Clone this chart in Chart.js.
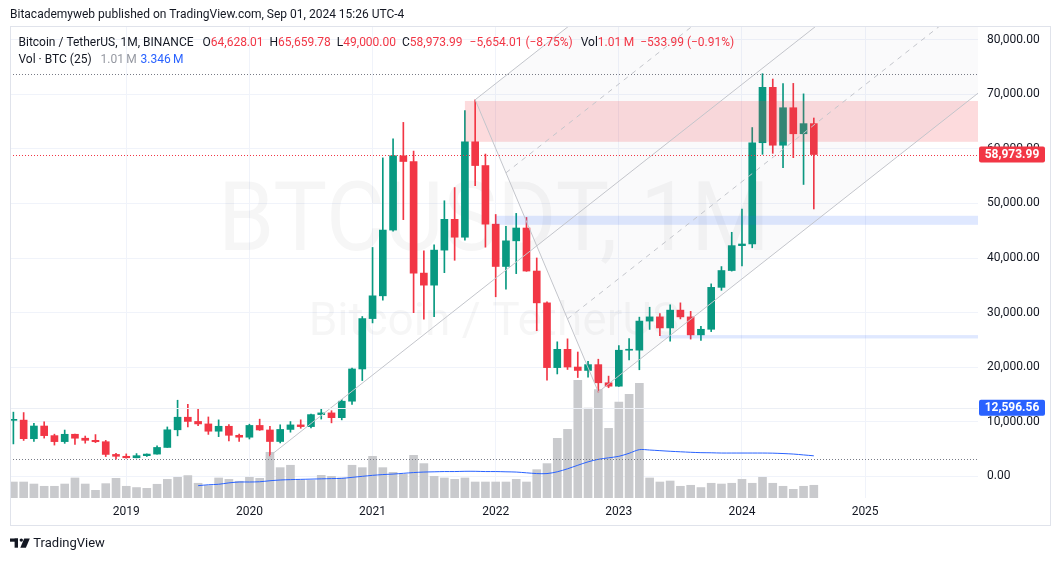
<!DOCTYPE html>
<html>
<head>
<meta charset="utf-8">
<script src="https://cdn.jsdelivr.net/npm/chart.js@4.4.1/dist/chart.umd.min.js"></script>
<style>
html,body{margin:0;padding:0;background:#ffffff;}
canvas{display:block;}
</style>
</head>
<body>
<canvas id="c" width="1060" height="561"></canvas>
<script>
// ---------- DATA (BTC/USDT monthly, Binance) ----------
const months = [
 '2018-02','2018-03','2018-04','2018-05','2018-06','2018-07','2018-08','2018-09','2018-10','2018-11','2018-12',
 '2019-01','2019-02','2019-03','2019-04','2019-05','2019-06','2019-07','2019-08','2019-09','2019-10','2019-11','2019-12',
 '2020-01','2020-02','2020-03','2020-04','2020-05','2020-06','2020-07','2020-08','2020-09','2020-10','2020-11','2020-12',
 '2021-01','2021-02','2021-03','2021-04','2021-05','2021-06','2021-07','2021-08','2021-09','2021-10','2021-11','2021-12',
 '2022-01','2022-02','2022-03','2022-04','2022-05','2022-06','2022-07','2022-08','2022-09','2022-10','2022-11','2022-12',
 '2023-01','2023-02','2023-03','2023-04','2023-05','2023-06','2023-07','2023-08','2023-09','2023-10','2023-11','2023-12',
 '2024-01','2024-02','2024-03','2024-04','2024-05','2024-06','2024-07','2024-08'
];
const opens = [
 10285,10326,6922,9246,7485,6391,7735,7011,6627,6369,4041,
 3701,3434,3814,4102,5321,8555,10855,10085,9630,8294,9199,7547,
 7195,9352,8523,6412,8620,9448,9138,11335,11649,10776,13791,19695,
 28923,33092,45134,58739,57697,37253,35045,41461,47100,43820,61300,56951,
 46216,38466,43160,45511,37631,31801,19942,23296,20049,19423,20491,17165,
 16542,23125,23141,28465,29233,27210,30472,29232,25941,26963,34640,37724,
 42284,42582,61131,71280,60672,67540,62773,64628.01
];
const highs = [
 11786,11710,9759,10020,7754,8507,7750,7410,7680,6615,4236,
 4140,4198,4140,5627,9074,13970,13200,12325,10905,10370,9510,7750,
 9578,10500,9189,9468,10067,10380,11444,12468,12050,14100,19863,29300,
 41950,58352,61844,64854,59600,41330,42448,50500,52920,66999,69000,59053,
 47990,45821,48189,47444,40023,31986,24668,25211,22799,21085,21480,18387,
 23960,25250,29185,31000,29820,31432,31804,30244,27483,35280,38450,44729,
 48969,63913,73777,72797,71980,71998,70080,65659.78
];
const lows = [
 5968,6600,6430,7032,5755,6070,5880,6100,6205,3652,3156,
 3349,3400,3670,4067,5329,7444,9071,9320,7710,7300,6515,6435,
 6871,8445,3782,6150,8117,8833,8893,10518,9825,10375,13195,17572,
 28130,32296,44950,47044,30000,28805,29278,37332,39600,43283,53256,42000,
 32917,34322,37155,37578,26700,17622,18781,19600,18125,18190,15476,16256,
 16500,21352,19549,26942,25811,24800,28861,25166,24901,26538,34097,37617,
 38555,41884,59005,59191,56552,58402,53485,49000
];
const closes = [
 10326,6924,9246,7485,6391,7730,7011,6627,6371,4041,3702,
 3434,3813,4104,5321,8555,10855,10085,9630,8293,9199,7547,7195,
 9352,8523,6410,8620,9448,9138,11335,11649,10776,13791,19695,28923,
 33092,45135,58740,57694,37253,35045,41462,47101,43824,61300,56951,46216,
 38466,43160,45510,37630,31801,19942,23293,20050,19423,20491,17164,16542,
 23125,23141,28465,29233,27210,30472,29232,25941,26963,34640,37724,42284,
 42582,61131,71280,60672,67540,62773,64628,58973.99
];
// volume in millions of BTC
const volumes = [
 1.27,1.27,1.11,0.93,0.93,1.11,1.59,1.11,0.61,1.14,1.56,
 0.93,0.83,0.77,1.09,1.48,1.64,1.78,1.17,0.98,1.59,1.48,1.33,
 1.64,1.56,3.63,2.41,2.60,1.40,1.40,1.80,1.72,1.59,2.60,2.41,
 3.31,2.41,2.04,1.88,3.39,2.73,1.72,1.59,1.48,1.59,1.27,1.27,
 1.27,1.27,1.48,1.27,2.25,2.73,4.74,5.45,9.34,7.14,8.60,5.53,
 7.62,8.23,9.10,1.59,1.27,1.35,0.93,1.01,0.83,1.17,1.11,1.17,
 1.48,1.17,1.64,1.17,0.93,0.69,0.93,1.01
];
// Vol MA(25), millions of BTC (line visible from Aug 2019)
const volMA = [
 null,null,null,null,null,null,null,null,null,null,null,
 null,null,null,null,null,null,null,0.98,1.05,1.09,1.20,1.27,
 1.27,1.29,1.37,1.43,1.46,1.48,1.50,1.52,1.54,1.56,1.64,1.72,
 1.80,1.86,1.90,1.96,2.02,2.06,2.08,2.10,2.10,2.12,2.12,2.10,
 2.10,2.08,2.06,2.00,1.94,1.94,2.08,2.32,2.60,2.87,3.07,3.19,
 3.31,3.55,3.84,3.81,3.76,3.71,3.67,3.63,3.60,3.59,3.57,3.57,
 3.57,3.57,3.57,3.56,3.53,3.49,3.42,3.35
];
const yearTicks  = [11,23,35,47,59,71,83];
const yearLabels = ['2019','2020','2021','2022','2023','2024','2025'];
const priceTicks = [0,10000,20000,30000,40000,50000,60000,70000,80000];
// drawing anchors (month indices) and zones (price levels)
const forkAnchors = [25,45,57];            // Mar 2020 low, Nov 2021 high, Nov 2022 low
const zoneStarts  = [44,47,63];
const zoneLows    = [61300,46100,25280];
const zoneHighs   = [68780,47750,25900];
const markerPrice = 12596.56;

// ---------- STYLE ----------
const UP = '#089981', DOWN = '#f23645';
const FONT = 'Roboto, "Noto Sans", sans-serif';
Chart.defaults.font.family = FONT;
const candleColors = opens.map((o,i)=> closes[i] >= o ? UP : DOWN);

function fmt(v){ return v.toLocaleString('en-US',{minimumFractionDigits:2,maximumFractionDigits:2}); }

const watermark = {
  id:'watermark',
  beforeDatasetsDraw(chart){
    const {ctx, chartArea:a} = chart;
    ctx.save();
    ctx.beginPath(); ctx.rect(a.left,a.top,a.right-a.left,a.bottom-a.top); ctx.clip();
    const cx = (a.left+a.right)/2;
    ctx.fillStyle = 'rgba(19,23,34,0.04)';
    ctx.textAlign='center'; ctx.textBaseline='alphabetic';
    ctx.font = '96px '+FONT;
    ctx.fillText('BTCUSDT, 1M', cx, 250, 552);
    ctx.font = '46px '+FONT;
    ctx.fillText('Bitcoin / TetherUS', cx, 335, 390);
    ctx.restore();
  }
};

const drawings = {
  id:'drawings',
  afterDatasetsDraw(chart){
    const {ctx, chartArea:a, scales:{x,y}} = chart;
    const X = i => x.getPixelForValue(i), Y = v => y.getPixelForValue(v);
    ctx.save();
    ctx.beginPath(); ctx.rect(a.left,a.top,a.right-a.left,a.bottom-a.top); ctx.clip();

    // zones
    const zoneColors = ['rgba(242,54,69,0.18)','rgba(41,98,255,0.15)','rgba(41,98,255,0.15)'];
    zoneStarts.forEach((s,k)=>{
      ctx.fillStyle = zoneColors[k];
      const t = Y(zoneHighs[k]), b = Y(zoneLows[k]);
      ctx.fillRect(X(s), t, a.right - X(s), b - t);
    });

    // pitchfork
    const p1 = {i:forkAnchors[0], v:lows[forkAnchors[0]]};
    const p2 = {i:forkAnchors[1], v:highs[forkAnchors[1]]};
    const p3 = {i:forkAnchors[2], v:lows[forkAnchors[2]]};
    const mid = {i:(p2.i+p3.i)/2, v:(p2.v+p3.v)/2};
    const s = (mid.v - p1.v)/(mid.i - p1.i);
    const far = p => ({i:p.i+300, v:p.v+s*300});
    const lerp = (t) => ({i:p2.i+(p3.i-p2.i)*t, v:p2.v+(p3.v-p2.v)*t});
    const P = p => [X(p.i), Y(p.v)];

    ctx.fillStyle = 'rgba(120,123,134,0.035)';
    ctx.beginPath();
    ctx.moveTo(...P(p2)); ctx.lineTo(...P(far(p2))); ctx.lineTo(...P(far(p3))); ctx.lineTo(...P(p3));
    ctx.closePath(); ctx.fill();

    ctx.strokeStyle = '#c3c5cb'; ctx.lineWidth = 1;
    const seg = (pa,pb,dash) => { ctx.setLineDash(dash||[]); ctx.beginPath(); ctx.moveTo(...P(pa)); ctx.lineTo(...P(pb)); ctx.stroke(); };
    seg(p1, far(p1));
    seg(p2, far(p2));
    seg(p3, far(p3));
    seg(p2, p3);
    seg(lerp(0.25), far(lerp(0.25)), [5,5]);
    seg(lerp(0.75), far(lerp(0.75)), [5,5]);
    ctx.setLineDash([]);

    // marker level line
    ctx.strokeStyle = '#eceff5';
    ctx.beginPath(); ctx.moveTo(a.left, Math.round(Y(markerPrice))+0.5); ctx.lineTo(a.right, Math.round(Y(markerPrice))+0.5); ctx.stroke();

    // high / low / last price dotted lines
    const hi = Math.max(...highs), lo = Math.min(...lows), last = closes[closes.length-1];
    ctx.lineWidth = 1; ctx.setLineDash([1,2]);
    [[hi,'#787b86'],[lo,'#787b86'],[last,'#f23645']].forEach(([v,c])=>{
      ctx.strokeStyle = c;
      const yy = Math.round(Y(v))+0.5;
      ctx.beginPath(); ctx.moveTo(a.left, yy); ctx.lineTo(a.right, yy); ctx.stroke();
    });
    ctx.restore();
  }
};

const frame = {
  id:'frame',
  afterDraw(chart){
    const {ctx, scales:{y}} = chart;
    ctx.save();
    // box
    ctx.strokeStyle = '#e0e3eb'; ctx.lineWidth = 1;
    ctx.strokeRect(10.5, 26.5, 1040, 499);

    // price labels
    const label = (v, color) => {
      const yy = y.getPixelForValue(v);
      ctx.fillStyle = color;
      ctx.beginPath();
      if (ctx.roundRect) ctx.roundRect(979, yy-8, 66, 16, 2); else ctx.rect(979, yy-8, 66, 16);
      ctx.fill();
      ctx.fillStyle = '#ffffff'; ctx.font = 'bold 12px '+FONT;
      ctx.textAlign='center'; ctx.textBaseline='middle';
      ctx.fillText(fmt(v), 1012, yy+0.5, 62);
    };
    label(closes[closes.length-1], '#f23645');
    label(markerPrice, '#2962ff');

    // header
    ctx.textAlign='left'; ctx.textBaseline='middle';
    ctx.fillStyle = '#131722'; ctx.font = '12px '+FONT;
    ctx.fillText('Bitacademyweb published on TradingView.com, Sep 01, 2024 15:26 UTC-4', 10, 15, 396);

    // legend (laid out sequentially)
    const dark = '#131722', red = '#f23645';
    ctx.font = '12px '+FONT;
    let cx = 18.5;
    const put = (txt, color, gap) => {
      ctx.fillStyle = color; ctx.fillText(txt, cx, 43);
      cx += ctx.measureText(txt).width + (gap||0);
    };
    put('Bitcoin / TetherUS, 1M, BINANCE', dark, 9);
    put('O', dark); put(fmt(opens[opens.length-1]), red, 6);
    put('H', dark); put(fmt(highs[highs.length-1]), red, 6);
    put('L', dark); put(fmt(lows[lows.length-1]), red, 6);
    put('C', dark); put(fmt(closes[closes.length-1]), red, 7);
    put('\u22125,654.01 (\u22128.75%)', red, 8);
    put('Vol', dark); put('1.01\u2009M', red, 6);
    put('\u2212533.99 (\u22120.91%)', red, 0);

    ctx.fillStyle = dark; ctx.fillText('Vol \u00b7 BTC (25)', 18.5, 60);
    ctx.fillStyle = '#9598a1'; ctx.fillText('1.01\u2009M', 100.5, 60);
    ctx.fillStyle = '#2962ff'; ctx.fillText('3.346\u2009M', 140.5, 60);

    // TradingView logo
    ctx.fillStyle = '#131722';
    ctx.fillRect(10, 538.5, 8, 3.2);
    ctx.fillRect(14.6, 538.5, 3.4, 9.2);
    ctx.beginPath(); ctx.arc(21.3, 540.1, 1.7, 0, Math.PI*2); ctx.fill();
    ctx.beginPath(); ctx.moveTo(24.2,538.5); ctx.lineTo(29.8,538.5); ctx.lineTo(25.9,547.7); ctx.lineTo(20.3,547.7); ctx.closePath(); ctx.fill();
    ctx.font = '13px '+FONT; ctx.textBaseline='middle';
    ctx.fillText('TradingView', 33.3, 544);
    ctx.restore();
  }
};

new Chart(document.getElementById('c'), {
  type:'bar',
  data:{
    datasets:[
      { type:'bar', label:'Volume', yAxisID:'yv',
        data: months.map((m,i)=>({x:i, y:volumes[i]})),
        backgroundColor:'#c9cacd', barThickness:8, grouped:false, order:4 },
      { type:'line', label:'Vol MA 25', yAxisID:'yv',
        data: months.map((m,i)=>({x:i, y:volMA[i]})),
        borderColor:'#2962ff', borderWidth:1, pointRadius:0, tension:0.3, spanGaps:false, order:3 },
      { type:'bar', label:'Wick', yAxisID:'y',
        data: months.map((m,i)=>({x:i, y:[lows[i], highs[i]]})),
        backgroundColor:candleColors, barThickness:1, grouped:false, order:2 },
      { type:'bar', label:'Body', yAxisID:'y',
        data: months.map((m,i)=>({x:i, y:[opens[i], closes[i]]})),
        backgroundColor:candleColors, barThickness:7, minBarLength:1, grouped:false, order:1 }
    ]
  },
  options:{
    responsive:false, animation:false,
    layout:{padding:{left:10, top:27, right:10, bottom:35}},
    plugins:{legend:{display:false}, tooltip:{enabled:false}},
    scales:{
      x:{ type:'linear', min:-0.33, max:94.0, offset:false,
          afterBuildTicks: s => { s.ticks = yearTicks.map(v=>({value:v})); },
          afterFit: s => { s.height = 28; },
          ticks:{ autoSkip:false, maxRotation:0, padding:7, color:'#131722', font:{size:12},
                  callback: v => { const k = yearTicks.indexOf(v); return k>=0 ? yearLabels[k] : ''; } },
          grid:{ color:'#f0f3fa', drawTicks:false, offset:false },
          border:{ display:false } },
      y:{ type:'linear', position:'right', min:-3938, max:82326,
          afterBuildTicks: s => { s.ticks = priceTicks.map(v=>({value:v})); },
          afterFit: s => { s.width = 72; },
          ticks:{ padding:9, color:'#131722', font:{size:12}, callback: v => fmt(v) },
          grid:{ color:'#f0f3fa', drawTicks:false },
          border:{ display:false } },
      yv:{ type:'linear', display:false, min:0, max:37.4 }
    }
  },
  plugins:[watermark, drawings, frame]
});
</script>
</body>
</html>
